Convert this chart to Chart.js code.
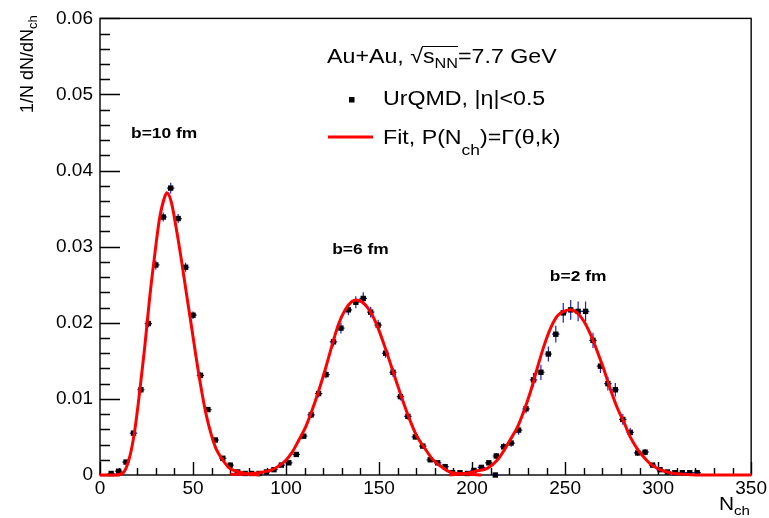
<!DOCTYPE html>
<html>
<head>
<meta charset="utf-8">
<script src="https://cdn.jsdelivr.net/npm/chart.js@4.4.0/dist/chart.umd.min.js"></script>
<style>
  html, body { margin: 0; padding: 0; background: #fff; }
  #wrap { width: 769px; height: 518px; }
</style>
</head>
<body>
<div id="wrap"><canvas id="nchChart" width="769" height="518"></canvas></div>
<script>
// UrQMD points, b = 10 fm
const nch10 = [6, 10, 14, 18, 22, 26, 30, 34, 38, 42, 46, 50, 54, 58, 62, 66, 70, 74, 78];
const val10 = [0.0002, 0.0005, 0.0017, 0.0055, 0.0112, 0.0199, 0.0276, 0.0339, 0.0377, 0.0337,
  0.0273, 0.0210, 0.0131, 0.0086, 0.0046, 0.0022, 0.0013, 0.0004, 0.0002];
const err10 = [0.0001, 0.0001, 0.0002, 0.0003, 0.0004, 0.0005, 0.0006, 0.0006, 0.0007, 0.0006,
  0.0006, 0.0005, 0.0004, 0.0003, 0.0002, 0.0002, 0.0001, 0.0001, 0.0001];

// UrQMD points, b = 6 fm
const nch6 = [81.5, 85.5, 89.5, 93.5, 97.5, 101.5, 105.5, 109.5, 113.5, 117.5, 121.5, 125.5, 129.5,
  133.5, 137.5, 141.5, 145.5, 149.5, 153.5, 157.5, 161.5, 165.5, 169.5, 173.5, 177.5, 181.5,
  185.5, 189.5, 193.5, 197.5, 212.5];
const val6 = [0.0002, 0.0002, 0.0004, 0.0007, 0.0013, 0.0016, 0.0027, 0.0051, 0.0079, 0.0107, 0.0132,
  0.0175, 0.0193, 0.0217, 0.0227, 0.0232, 0.0214, 0.0197, 0.0160, 0.0135, 0.0103, 0.0077, 0.0050,
  0.0038, 0.0020, 0.0016, 0.0011, 0.0003, 0.0003, 0.0002, 0.0000];
const err6 = [0.0001, 0.0001, 0.0001, 0.0001, 0.0002, 0.0002, 0.0003, 0.0003, 0.0004, 0.0005, 0.0005,
  0.0006, 0.0007, 0.0007, 0.0008, 0.0008, 0.0007, 0.0007, 0.0006, 0.0006, 0.0005, 0.0004, 0.0003,
  0.0003, 0.0002, 0.0002, 0.0001, 0.0001, 0.0001, 0.0001, 0.0001];

// UrQMD points, b = 2 fm
const nch2 = [201, 205, 209, 213, 217, 221, 225, 229, 233, 237, 241, 245, 249, 253, 257, 261, 265,
  269, 273, 277, 281, 285, 289, 293, 297, 301, 305, 309, 313, 317, 321];
const val2 = [0.0006, 0.0010, 0.0016, 0.0025, 0.0037, 0.0042, 0.0059, 0.0087, 0.0125, 0.0135, 0.0159,
  0.0185, 0.0213, 0.0217, 0.0215, 0.0215, 0.0177, 0.0143, 0.0120, 0.0112, 0.0073, 0.0056, 0.0029,
  0.0030, 0.0013, 0.0007, 0.0004, 0.0003, 0.0003, 0.0003, 0.0003];
const err2 = [0.0002, 0.0003, 0.0003, 0.0004, 0.0005, 0.0005, 0.0006, 0.0006, 0.0009, 0.0010, 0.0010,
  0.0011, 0.0013, 0.0013, 0.0013, 0.0013, 0.0010, 0.0009, 0.0009, 0.0009, 0.0007, 0.0006, 0.0004,
  0.0004, 0.0002, 0.0002, 0.0001, 0.0001, 0.0001, 0.0001, 0.0001];

// Gamma fits
const fitX10 = [0, 8, 12.5, 16, 18.7, 21.4, 24, 26.7, 29.4, 32, 34.7, 36, 38.3, 41, 43.6, 46.3, 49,
  51.7, 54.3, 57, 59.7, 62.3, 65.9, 69.5, 74.8, 80.2, 86];
const fitY10 = [0, 0, 0.0003, 0.0024, 0.0059, 0.0111, 0.0167, 0.0233, 0.0289, 0.0337, 0.0365, 0.0371,
  0.0359, 0.0324, 0.0285, 0.0241, 0.0198, 0.0154, 0.0115, 0.0080, 0.0054, 0.0035, 0.0020, 0.0009,
  0.0004, 0.0001, 0];
const fitX6 = [70, 76, 82, 88, 92.6, 96.2, 99.8, 103.3, 106.9, 110.5, 114, 117.6, 121.1, 124.7, 128.2,
  131.8, 135.4, 138, 141.6, 145.2, 148.7, 152.3, 155.9, 159.4, 163, 166.6, 170.1, 174.6, 179, 183.5,
  187.9, 192, 198, 205];
const fitY6 = [0.0001, 0.0001, 0.0002, 0.0004, 0.0007, 0.0012, 0.0019, 0.0030, 0.0046, 0.0063, 0.0085,
  0.0111, 0.0139, 0.0170, 0.0198, 0.0217, 0.0228, 0.0230, 0.0226, 0.0215, 0.0198, 0.0174, 0.0148,
  0.0122, 0.0096, 0.0072, 0.0052, 0.0035, 0.0020, 0.0011, 0.0004, 0.0002, 0.0001, 0];
const fitX2 = [188, 196, 202, 208.4, 213.7, 217.3, 220.9, 224.4, 228, 231.6, 235.1, 238.7, 242.2,
  245.8, 249.4, 252.9, 256.5, 260.1, 263.6, 267.2, 270.8, 274.3, 277.9, 281.5, 285, 288.6, 292.1,
  295.7, 301, 306.4, 313.5, 320, 350];
const fitY2 = [0, 0.0002, 0.0005, 0.0009, 0.0020, 0.0033, 0.0048, 0.0063, 0.0085, 0.0111, 0.0141,
  0.0170, 0.0193, 0.0209, 0.0215, 0.0217, 0.0213, 0.0202, 0.0185, 0.0163, 0.0139, 0.0113, 0.0089,
  0.0070, 0.0050, 0.0035, 0.0024, 0.0015, 0.0007, 0.0003, 0.0001, 0, 0];

// axes
const xMin = 0, xMax = 350, xStep = 50, xMinor = 10;
const yMin = 0, yMax = 0.06, yStep = 0.01, yMinor = 0.002;

// impact parameter labels (data coordinates)
const bLabels = ["b=10 fm", "b=6 fm", "b=2 fm"];
const bLabelX = [34.5, 140, 257];
const bLabelY = [0.045, 0.0297, 0.0261];

const FONT = "'Liberation Sans', Arial, Helvetica, sans-serif";
const SX = 1.16; // the source picture is a little wider than tall

const pts = (xs, ys) => xs.map((x, i) => ({ x: x, y: ys[i] }));

function pointSet(xs, ys, errs) {
  return {
    data: pts(xs, ys),
    errs: errs,
    showLine: false,
    pointStyle: "rect",
    pointRadius: 3.8,
    pointBorderWidth: 0,
    pointBackgroundColor: "#000",
    borderColor: "#000",
    clip: false,
    order: 2,
  };
}

function fitSet(xs, ys) {
  return {
    data: pts(xs, ys),
    showLine: true,
    borderColor: "#ff0000",
    borderWidth: 3,
    pointRadius: 0,
    cubicInterpolationMode: "monotone",
    clip: false,
    order: 1,
  };
}

// draws text pieces with sub/superscript offsets
function rich(ctx, x, y, parts, sx) {
  ctx.save();
  ctx.translate(x, y);
  ctx.scale(sx, 1);
  let cx = 0;
  const ends = [];
  parts.forEach((p) => {
    ctx.font = (p.bold ? "bold " : "") + p.size + "px " + FONT;
    ctx.fillText(p.t, cx, p.dy || 0);
    ends.push([cx * sx, (cx + ctx.measureText(p.t).width) * sx]);
    cx += ctx.measureText(p.t).width;
  });
  ctx.restore();
  return ends;
}

// frame, inward ticks, error bars
const framePlugin = {
  id: "frame",
  beforeDatasetsDraw(chart) {
    const ctx = chart.ctx;
    const a = chart.chartArea;
    const xs = chart.scales.x;
    const ys = chart.scales.y;
    ctx.save();
    ctx.strokeStyle = "#000";
    ctx.lineWidth = 1.4;
    ctx.strokeRect(a.left, a.top, a.right - a.left, a.bottom - a.top);

    ctx.beginPath();
    for (let v = yMin; v <= yMax + 1e-9; v += yMinor) {
      const major = Math.abs(v / yStep - Math.round(v / yStep)) < 1e-6;
      const py = Math.round(ys.getPixelForValue(v)) + 0.5;
      ctx.moveTo(a.left, py);
      ctx.lineTo(a.left + (major ? 20 : 10), py);
    }
    for (let v = xMin; v <= xMax + 1e-9; v += xMinor) {
      const major = Math.abs(v / xStep - Math.round(v / xStep)) < 1e-6;
      const px = Math.round(xs.getPixelForValue(v)) + 0.5;
      ctx.moveTo(px, a.bottom);
      ctx.lineTo(px, a.bottom - (major ? 13 : 7));
    }
    ctx.stroke();

    // error bars
    ctx.strokeStyle = "#1c1cd0";
    ctx.lineWidth = 1.2;
    ctx.beginPath();
    chart.data.datasets.forEach((ds) => {
      if (!ds.errs) return;
      ds.data.forEach((p, i) => {
        const px = xs.getPixelForValue(p.x);
        const py = ys.getPixelForValue(p.y);
        const e = ds.errs[i];
        ctx.moveTo(px, ys.getPixelForValue(p.y - e));
        ctx.lineTo(px, ys.getPixelForValue(p.y + e));
        ctx.moveTo(xs.getPixelForValue(p.x - 2), py);
        ctx.lineTo(xs.getPixelForValue(p.x + 2), py);
      });
    });
    ctx.stroke();
    ctx.restore();
  },
  afterDraw(chart) {
    const ctx = chart.ctx;
    const xs = chart.scales.x;
    const ys = chart.scales.y;
    ctx.save();
    ctx.fillStyle = "#000";
    ctx.textBaseline = "alphabetic";

    // b labels
    ctx.textAlign = "center";
    bLabels.forEach((t, i) => {
      ctx.save();
      ctx.translate(xs.getPixelForValue(bLabelX[i]), ys.getPixelForValue(bLabelY[i]) + 5);
      ctx.scale(SX, 1);
      ctx.font = "bold 15px " + FONT;
      ctx.fillText(t, 0, 0);
      ctx.restore();
    });
    ctx.textAlign = "left";

    // legend block
    const ends = rich(ctx, 327, 63, [
      { t: "Au+Au, ", size: 20 },
      { t: "\u221A", size: 20 },
      { t: "s", size: 20 },
      { t: "NN", size: 14, dy: 5 },
      { t: "=7.7 GeV", size: 20 },
    ], SX);
    ctx.strokeStyle = "#000";
    ctx.lineWidth = 1;
    ctx.beginPath();
    ctx.moveTo(327 + ends[1][1] - 1, 46.5);
    ctx.lineTo(327 + ends[3][1], 46.5);
    ctx.stroke();

    ctx.fillRect(349, 97, 5.5, 5.5);
    rich(ctx, 383, 105, [{ t: "UrQMD, |\u03B7|<0.5", size: 20 }], SX);

    ctx.strokeStyle = "#ff0000";
    ctx.lineWidth = 3;
    ctx.beginPath();
    ctx.moveTo(328, 137);
    ctx.lineTo(373, 137);
    ctx.stroke();
    rich(ctx, 383, 144, [
      { t: "Fit, P(N", size: 20 },
      { t: "ch", size: 15, dy: 11 },
      { t: ")=\u0393(\u03B8,k)", size: 20 },
    ], SX);

    // axis titles
    ctx.save();
    ctx.translate(33, 113);
    ctx.rotate(-Math.PI / 2);
    ctx.font = "18px " + FONT;
    ctx.fillText("1/N dN/dN", 0, 0);
    const w = ctx.measureText("1/N dN/dN").width;
    ctx.font = "13px " + FONT;
    ctx.fillText("ch", w, 4);
    ctx.restore();

    rich(ctx, 719, 510, [
      { t: "N", size: 18 },
      { t: "ch", size: 13, dy: 5 },
    ], SX);
    ctx.restore();
  },
};

const ctx = document.getElementById("nchChart").getContext("2d");
const nchChart = new Chart(ctx, {
  type: "line",
  data: {
    datasets: [
      pointSet(nch10, val10, err10),
      pointSet(nch6, val6, err6),
      pointSet(nch2, val2, err2),
      fitSet(fitX10, fitY10),
      fitSet(fitX6, fitY6),
      fitSet(fitX2, fitY2),
    ],
  },
  options: {
    responsive: false,
    animation: false,
    layout: {
      autoPadding: false,
      padding: { top: 15, right: 13, left: 0, bottom: 0 },
    },
    plugins: {
      legend: { display: false },
      tooltip: { enabled: false },
    },
    scales: {
      x: {
        type: "linear",
        min: xMin,
        max: xMax,
        grid: { display: false, drawTicks: false },
        border: { display: false },
        ticks: {
          stepSize: xStep,
          padding: 2,
          color: "#000",
          maxRotation: 0,
          font: { family: FONT, size: 19 },
        },
        afterFit: (s) => { s.height = 43; },
      },
      y: {
        min: yMin,
        max: yMax,
        grid: { display: false, drawTicks: false },
        border: { display: false },
        ticks: {
          stepSize: yStep,
          padding: 7,
          color: "#000",
          font: { family: FONT, size: 19 },
          callback: (v) => String(+v.toFixed(2)),
        },
        afterFit: (s) => { s.width = 100; },
      },
    },
  },
  plugins: [framePlugin],
});
</script>
</body>
</html>
